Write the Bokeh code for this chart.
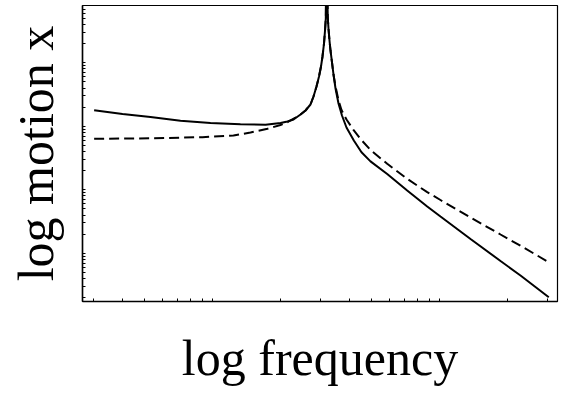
from bokeh.plotting import figure
from bokeh.models import FixedTicker, Range1d
from bokeh.embed import file_html
from bokeh.resources import INLINE

# values (log-log axes, arbitrary units)
freq_solid = [0.301, 0.4015, 0.5331, 0.7228, 0.9799, 1.328, 1.712, 1.993, 2.140, 2.275,
              2.442, 2.569, 2.702, 2.786, 2.872, 2.946, 3.006, 3.052, 3.099, 3.131,
              3.156, 3.178, 3.220, 3.243, 3.276, 3.310, 3.361, 3.412, 3.483, 3.590,
              3.719, 3.893, 4.194, 4.533, 4.966, 5.884, 7.205, 8.829, 10.10, 13.70,
              18.57, 22.74, 30.30]
motion_solid = [17.93, 15.62, 14.01, 12.21, 11.27, 10.75, 10.60, 11.27, 11.90, 12.80,
                15.34, 17.74, 22.04, 29.47, 42.36, 60.85, 87.42, 125.7, 201.3, 322.6,
                498.4, 5000.0, 516.8, 346.9, 224.5, 156.2, 101.1, 65.42, 39.38, 22.86,
                14.79, 9.575, 5.974, 3.900, 2.800, 1.774, 0.975, 0.5458, 0.3797, 0.1680,
                0.07560, 0.04471, 0.02036]

freq_dashed = [0.301, 0.5331, 0.9036, 1.237, 1.470, 1.747, 1.993, 2.140, 2.321, 2.442,
               2.569, 2.702, 2.786, 2.872, 2.946, 3.006, 3.052, 3.099, 3.131, 3.156,
               3.178, 3.220, 3.243, 3.276, 3.310, 3.361, 3.412, 3.483, 3.590, 3.700,
               3.893, 4.194, 4.487, 4.966, 5.884, 7.205, 8.829, 10.10, 13.70, 18.57,
               22.74, 30.30]
motion_dashed = [6.356, 6.471, 6.735, 7.163, 7.987, 9.134, 10.48, 11.60, 13.76, 15.34,
                 17.74, 22.04, 29.47, 42.36, 60.85, 87.42, 125.7, 201.3, 322.6, 498.4,
                 5000.0, 516.8, 346.9, 224.5, 156.2, 101.1, 65.42, 42.36, 25.49, 18.06,
                 12.80, 8.589, 6.310, 4.235, 2.567, 1.490, 0.9167, 0.6909, 0.3663, 0.1977,
                 0.1313, 0.07243]

x_ticks = [0.3, 0.4, 0.5, 0.6, 0.7, 0.8, 0.9, 1, 2, 3, 4, 5, 6, 7, 8, 9, 10, 20, 30]
y_ticks = [0.02, 0.03, 0.04, 0.05, 0.06, 0.07, 0.08, 0.09, 0.1,
           0.2, 0.3, 0.4, 0.5, 0.6, 0.7, 0.8, 0.9, 1,
           2, 3, 4, 5, 6, 7, 8, 9, 10,
           20, 30, 40, 50, 60, 70, 80, 90, 100,
           200, 300, 400, 500, 600, 700]

x_label = "log frequency"
y_label = "log motion x"

p = figure(width=563, height=406, x_axis_type="log", y_axis_type="log",
           x_range=Range1d(0.2675, 33.1), y_range=Range1d(0.01741, 798.6),
           output_backend="svg", toolbar_location=None,
           min_border_left=82, min_border_right=6, min_border_top=5, min_border_bottom=105)

p.background_fill_color = "white"
p.border_fill_color = "white"
p.outline_line_color = "black"
p.outline_line_width = 1.2
p.xgrid.visible = False
p.ygrid.visible = False

# tick marks only (no numeric labels), drawn inside the frame
p.xaxis.ticker = FixedTicker(ticks=[], minor_ticks=x_ticks)
p.yaxis.ticker = FixedTicker(ticks=[], minor_ticks=y_ticks)

for ax in (p.xaxis, p.yaxis):
    ax.major_tick_in = 0
    ax.major_tick_out = 0
    ax.minor_tick_in = 3
    ax.minor_tick_out = 0
    ax.axis_line_width = 1.5
    ax.axis_line_color = "black"
    ax.minor_tick_line_color = "black"
    ax.axis_label_text_font = "Liberation Serif"
    ax.axis_label_text_font_style = "normal"
    ax.axis_label_text_font_size = "50px"
    ax.axis_label_text_color = "black"

p.xaxis.axis_label = x_label
p.yaxis.axis_label = y_label
p.xaxis.axis_label_standoff = 28
p.yaxis.axis_label_standoff = 19

p.line(freq_dashed, motion_dashed, line_color="black", line_width=2, line_dash="10 5")
p.line(freq_solid, motion_solid, line_color="black", line_width=2)

open("out.html", "w").write(file_html(p, INLINE))
